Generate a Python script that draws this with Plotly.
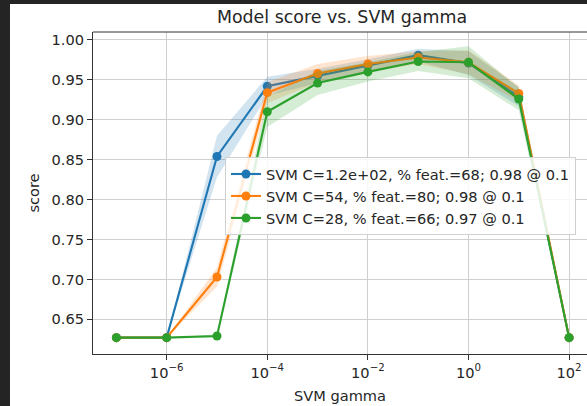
import plotly.graph_objects as go

# ---- data ----
gamma = [1e-7, 1e-6, 1e-5, 1e-4, 1e-3, 1e-2, 1e-1, 1e0, 1e1, 1e2]

names = [
    "SVM C=1.2e+02, % feat.=68; 0.98 @ 0.1",
    "SVM C=54, % feat.=80; 0.98 @ 0.1",
    "SVM C=28, % feat.=66; 0.97 @ 0.1",
]
blue_score = [0.627, 0.627, 0.854, 0.942, 0.955, 0.968, 0.981, 0.971, 0.929, 0.627]
orange_score = [0.627, 0.627, 0.703, 0.934, 0.958, 0.970, 0.978, 0.972, 0.933, 0.627]
green_score = [0.627, 0.627, 0.629, 0.910, 0.946, 0.960, 0.973, 0.972, 0.926, 0.627]

blue_std = [0.0, 0.0, 0.026, 0.012, 0.009, 0.008, 0.008, 0.015, 0.012, 0.0]
orange_std = [0.0, 0.0, 0.012, 0.013, 0.012, 0.010, 0.008, 0.015, 0.010, 0.0]
green_std = [0.0, 0.0, 0.002, 0.019, 0.015, 0.012, 0.012, 0.020, 0.014, 0.0]

x_tickvals = [1e-6, 1e-4, 1e-2, 1e0, 1e2]
x_ticktext = ["10<sup>\u22126</sup>", "10<sup>\u22124</sup>", "10<sup>\u22122</sup>",
              "10<sup>0</sup>", "10<sup>2</sup>"]
y_tickvals = [0.65, 0.70, 0.75, 0.80, 0.85, 0.90, 0.95, 1.00]
y_ticktext = ["0.65", "0.70", "0.75", "0.80", "0.85", "0.90", "0.95", "1.00"]

colors = ["#1f77b4", "#ff7f0e", "#2ca02c"]
fills = ["rgba(31,119,180,0.2)", "rgba(255,127,14,0.2)", "rgba(44,160,44,0.2)"]
scores = [blue_score, orange_score, green_score]
stds = [blue_std, orange_std, green_std]

W, H = 587, 406
ML, MR, MT, MB = 93, 0, 32, 52
PW, PH = W - ML - MR, H - MT - MB

fig = go.Figure()
for name, col, fc, sc, sd in zip(names, colors, fills, scores, stds):
    upper = [s + d for s, d in zip(sc, sd)]
    lower = [s - d for s, d in zip(sc, sd)]
    fig.add_trace(go.Scatter(x=gamma, y=upper, mode="lines", line=dict(width=0),
                             showlegend=False, hoverinfo="skip"))
    fig.add_trace(go.Scatter(x=gamma, y=lower, mode="lines", line=dict(width=0),
                             fill="tonexty", fillcolor=fc, showlegend=False,
                             hoverinfo="skip"))
    fig.add_trace(go.Scatter(x=gamma, y=sc, mode="lines+markers", name=name,
                             line=dict(color=col, width=2.1),
                             marker=dict(color=col, size=9)))

def px_x(px):
    return (px - ML) / PW

def px_y(py):
    return (H - MB - py) / PH

font_family = "DejaVu Sans"
txt = "#262626"
fs = 14.6

fig.update_layout(
    width=W, height=H,
    margin=dict(l=ML, r=MR, t=MT, b=MB),
    paper_bgcolor="#242424",
    plot_bgcolor="white",
    font=dict(family=font_family, size=fs, color=txt),
    title=dict(text="Model score vs. SVM gamma", font=dict(size=17.4, color=txt),
               x=342 / W, xref="container", xanchor="center",
               y=1 - 17 / H, yref="container", yanchor="middle"),
    showlegend=True,
    legend=dict(x=px_x(225), y=px_y(157), xanchor="left", yanchor="top",
                bgcolor="rgba(255,255,255,0.85)", bordercolor="#d0d0d0",
                borderwidth=1, font=dict(size=fs, color=txt),
                traceorder="normal", itemwidth=30, tracegroupgap=0),
    shapes=[
        dict(type="rect", xref="paper", yref="paper", layer="below",
             x0=px_x(10), x1=px_x(W + 5), y0=px_y(H + 5), y1=px_y(4),
             fillcolor="white", line=dict(width=0)),
        dict(type="line", xref="paper", yref="paper", x0=0, x1=1.01, y0=1, y1=1,
             line=dict(color="#333333", width=1.2)),
    ],
)

fig.update_xaxes(
    type="log", range=[-7.465, 2.356],
    tickvals=x_tickvals, ticktext=x_ticktext,
    showgrid=True, gridcolor="#cfcfcf", gridwidth=1,
    showline=True, linecolor="#333333", linewidth=1.2,
    ticks="outside", ticklen=5, tickcolor="#333333", tickwidth=1,
    zeroline=False,
    title=dict(text="SVM gamma", font=dict(size=fs, color=txt), standoff=11),
)
fig.update_yaxes(
    range=[0.6065, 1.010],
    tickvals=y_tickvals, ticktext=y_ticktext,
    showgrid=True, gridcolor="#cfcfcf", gridwidth=1,
    showline=True, linecolor="#333333", linewidth=1.2,
    ticks="outside", ticklen=5, tickcolor="#333333", tickwidth=1,
    zeroline=False,
    title=dict(text="score", font=dict(size=fs, color=txt), standoff=8),
)

fig.write_html(
    "out.html",
    config={"displayModeBar": False},
    post_script="document.body.style.margin='0';"
                "document.body.style.background='#242424';"
                "document.body.style.overflow='hidden';",
)
